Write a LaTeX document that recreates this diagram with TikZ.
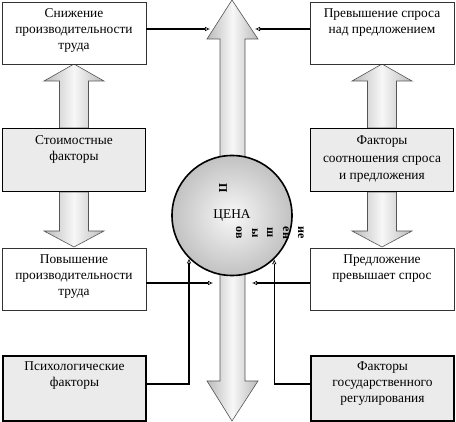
\documentclass[tikz,border=0pt]{standalone}
\usepackage{fontspec}
\setmainfont{Liberation Serif}
\usetikzlibrary{positioning,arrows.meta}
\definecolor{boxgray}{HTML}{EBEBEB}
\definecolor{edgegray}{HTML}{555555}

\begin{document}
\begin{tikzpicture}[x=1pt,y=-1pt,
    every node/.style={font=\fontsize{13.4}{16}\selectfont},
    whitebox/.style={draw=black!80,line width=0.8pt,fill=white,minimum width=144pt,minimum height=62pt,inner sep=0pt},
    graybox/.style={draw=black,line width=1.8pt,fill=boxgray,minimum width=143pt,minimum height=63pt,inner sep=0pt},
    boxtext/.style={align=center,inner sep=0pt},
    blockarrow/.style={draw=edgegray,line width=0.6pt,left color=black!27,right color=black!27,middle color=black!3},
    conn/.style={line width=1.4pt,-{Latex[open,length=5pt,width=4.5pt,line width=0.6pt]}},
    frag/.style={rotate=-90,inner sep=0pt,font=\fontsize{12}{12}\selectfont\bfseries}]
    \useasboundingbox (0,0) rectangle (456,422);

    % central double arrow
    \path[blockarrow] (232,0) -- (258,39) -- (245,39) -- (245,381) -- (258,381) -- (232,421)
      -- (207,381) -- (220,381) -- (220,39) -- (207,39) -- cycle;

    % side block arrows
    \foreach \cx in {74,382} {
      \path[blockarrow] (\cx,64) -- (\cx+30,81) -- (\cx+14.5,81) -- (\cx+14.5,128)
        -- (\cx-14.5,128) -- (\cx-14.5,81) -- (\cx-30,81) -- cycle;
      \path[blockarrow] (\cx,247) -- (\cx+30,231) -- (\cx+14.5,231) -- (\cx+14.5,192)
        -- (\cx-14.5,192) -- (\cx-14.5,231) -- (\cx-30,231) -- cycle;
    }

    % price sphere
    \node[circle,draw=black,line width=1.6pt,inner color=black!3,outer color=black!24,
      minimum size=120pt,inner sep=0pt] (cena) at (232,215.5) {ЦЕНА};
    \node[frag] (fragP) at (223,188) {П};
    \foreach \fx/\ft [count=\i] in {239/ов,255/ы,270/ш,286/ен,301/ие}
      \node[frag] (frag\i) at (\fx,233) {\ft};

    % boxes
    \node[whitebox] (snizh) at (74,33) {};
    \node[boxtext,below=7pt of snizh.north] (snizhT) {Снижение\\производительности\\труда};
    \node[whitebox] (prevysh) at (382,33) {};
    \node[boxtext,below=7pt of prevysh.north] (prevyshT) {Превышение спроса\\над предложением};
    \node[graybox] (stoim) at (74,160) {};
    \node[boxtext,below=8pt of stoim.north] (stoimT) {Стоимостные\\факторы};
    \node[graybox] (sootn) at (382,160) {};
    \node[boxtext,below=8pt of sootn.north,font=\fontsize{13.4}{17.5}\selectfont] (sootnT)
      {Факторы\\соотношения спроса\\и предложения};
    \node[whitebox] (povysh) at (74,279) {};
    \node[boxtext,below=7pt of povysh.north] (povyshT) {Повышение\\производительности\\труда};
    \node[whitebox] (predl) at (382,279) {};
    \node[boxtext,below=7pt of predl.north] (predlT) {Предложение\\превышает спрос};
    \node[graybox,minimum height=65pt] (psikh) at (74.5,388.5) {};
    \node[boxtext,below=6pt of psikh.north] (psikhT) {Психологические\\факторы};
    \node[graybox,minimum height=65pt] (gos) at (382.5,388.5) {};
    \node[boxtext,below=6pt of gos.north] (gosT) {Факторы\\государственного\\регулирования};

    % connectors
    \coordinate (headL) at (210,0);
    \coordinate (headR) at (255,0);
    \coordinate (shaftL) at (213,0);
    \coordinate (shaftR) at (252,0);
    \draw[conn] ([yshift=4pt]snizh.east) -- ([yshift=4pt]snizh.east -| headL);
    \draw[conn] ([yshift=4pt]prevysh.west) -- ([yshift=4pt]prevysh.west -| headR);
    \draw[conn] ([yshift=-4pt]povysh.east) -- ([yshift=-4pt]povysh.east -| shaftL);
    \draw[conn] ([yshift=-4pt]predl.west) -- ([yshift=-4pt]predl.west -| shaftR);
    \draw[conn] ([yshift=4.5pt]psikh.east) -| (cena.225.6);
    \draw[conn] ([yshift=4.5pt]gos.west) -| (cena.314.2);
  \end{tikzpicture}
\end{document}
